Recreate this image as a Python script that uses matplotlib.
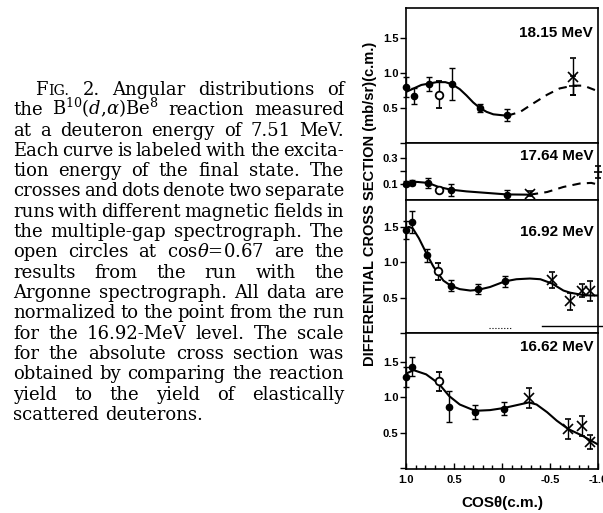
import matplotlib
matplotlib.use('Agg')
import matplotlib.pyplot as plt
from matplotlib.ticker import MultipleLocator

plt.rcParams['font.family'] = ['Liberation Sans', 'DejaVu Sans']
plt.rcParams['mathtext.fontset'] = 'dejavuserif'

# ---------------- data (cos theta c.m., cross section mb/sr) ----------------
# 18.15 MeV level
e1815_dot_cos = [1.0, 0.92, 0.76, 0.52, 0.23, -0.055]
e1815_dot_val = [0.80, 0.67, 0.85, 0.84, 0.50, 0.40]
e1815_dot_err = [0.14, 0.11, 0.10, 0.23, 0.06, 0.08]
e1815_open_cos = [0.66]
e1815_open_val = [0.69]
e1815_open_err = [0.19]
e1815_x_cos = [-0.74]
e1815_x_val = [0.95]
e1815_x_err = [0.27]
e1815_bar_cos = [-0.74]
e1815_bar_val = [0.82]
e1815_bar_err = [0.14]
e1815_curve_cos = [1.0, 0.92, 0.84, 0.76, 0.68, 0.59, 0.52, 0.44, 0.37, 0.30, 0.23, 0.16, 0.09, 0.02, -0.055]
e1815_curve_val = [0.73, 0.78, 0.83, 0.85, 0.87, 0.87, 0.84, 0.77, 0.68, 0.58, 0.50, 0.445, 0.41, 0.40, 0.39]
e1815_dash_cos = [-0.055, -0.19, -0.33, -0.47, -0.60, -0.74, -0.85, -1.0]
e1815_dash_val = [0.39, 0.445, 0.57, 0.69, 0.78, 0.82, 0.82, 0.74]

# 17.64 MeV level
e1764_dot_cos = [1.0, 0.94, 0.77, 0.535, -0.05]
e1764_dot_val = [0.10, 0.105, 0.105, 0.05, 0.006]
e1764_dot_err = [0.02, 0.02, 0.04, 0.05, 0.04]
e1764_open_cos = [0.66]
e1764_open_val = [0.046]
e1764_open_err = [0.02]
e1764_x_cos = [-0.29]
e1764_x_val = [0.02]
e1764_x_err = [0.02]
e1764_bar_cos = [-1.0]
e1764_bar_val = [0.19]
e1764_bar_err = [0.05]
e1764_curve_cos = [1.0, 0.89, 0.77, 0.66, 0.535, 0.37, 0.195, -0.05, -0.29]
e1764_curve_val = [0.10, 0.113, 0.105, 0.073, 0.052, 0.038, 0.028, 0.014, 0.012]
e1764_dash_cos = [-0.29, -0.47, -0.64, -0.81, -0.93, -1.0]
e1764_dash_val = [0.012, 0.033, 0.073, 0.10, 0.105, 0.092]

# 16.92 MeV level
e1692_dot_cos = [1.0, 0.934, 0.778, 0.535, 0.253, -0.03]
e1692_dot_val = [1.46, 1.57, 1.10, 0.67, 0.62, 0.73]
e1692_dot_err = [0.13, 0.15, 0.09, 0.08, 0.07, 0.08]
e1692_open_cos = [0.67]
e1692_open_val = [0.87]
e1692_open_err = [0.12]
e1692_x_cos = [-0.524, -0.71, -0.83, -0.92]
e1692_x_val = [0.75, 0.45, 0.60, 0.59]
e1692_x_err = [0.11, 0.12, 0.09, 0.14]
e1692_curve_cos = [1.0, 0.97, 0.93, 0.866, 0.778, 0.715, 0.67, 0.61, 0.535, 0.44, 0.33, 0.25, 0.125,
                   -0.03, -0.15, -0.29, -0.40, -0.52, -0.64, -0.71, -0.83, -0.92, -1.0]
e1692_curve_val = [1.48, 1.50, 1.48, 1.34, 1.10, 0.94, 0.85, 0.74, 0.67, 0.62, 0.60, 0.61, 0.65,
                   0.73, 0.76, 0.77, 0.76, 0.70, 0.60, 0.57, 0.54, 0.53, 0.53]

# 16.62 MeV level
e1662_dot_cos = [1.0, 0.94, 0.55, 0.28, -0.02]
e1662_dot_val = [1.29, 1.44, 0.87, 0.79, 0.84]
e1662_dot_err = [0.14, 0.14, 0.22, 0.10, 0.09]
e1662_open_cos = [0.66]
e1662_open_val = [1.23]
e1662_open_err = [0.14]
e1662_x_cos = [-0.28, -0.69, -0.83, -0.92]
e1662_x_val = [0.99, 0.55, 0.59, 0.37]
e1662_x_err = [0.14, 0.14, 0.14, 0.10]
e1662_curve_cos = [1.0, 0.92, 0.79, 0.66, 0.55, 0.44, 0.28, 0.125, -0.02, -0.15, -0.28, -0.36,
                   -0.47, -0.57, -0.69, -0.83, -0.92, -1.0]
e1662_curve_val = [1.34, 1.39, 1.33, 1.20, 1.02, 0.90, 0.81, 0.82, 0.85, 0.89, 0.93, 0.90,
                   0.79, 0.67, 0.55, 0.46, 0.39, 0.33]

level_labels = ['18.15 MeV', '17.64 MeV', '16.92 MeV', '16.62 MeV']
x_tick_vals = [1.0, 0.5, 0.0, -0.5, -1.0]
x_tick_text = ['1.0', '0.5', '0', '-0.5', '-1.0']

caption_lines = [
    "FIG. 2. Angular distributions of",
    r"the B$^{10}$($d$,$\alpha$)Be$^{8}$ reaction measured",
    "at a deuteron energy of 7.51 MeV.",
    "Each curve is labeled with the excita-",
    "tion energy of the final state. The",
    "crosses and dots denote two separate",
    "runs with different magnetic fields in",
    "the multiple-gap spectrograph. The",
    r"open circles at cos$\theta$=0.67 are the",
    "results from the run with the",
    "Argonne spectrograph. All data are",
    "normalized to the point from the run",
    "for the 16.92-MeV level. The scale",
    "for the absolute cross section was",
    "obtained by comparing the reaction",
    "yield to the yield of elastically",
    "scattered deuterons.",
]

W, H = 603, 513
fig = plt.figure(figsize=(W / 100, H / 100), dpi=100)
fig.patch.set_facecolor('white')

# panel edges in pixels (top, bottom)
panel_px = [(8, 143), (143, 200), (200, 333), (333, 469)]
ax_left, ax_right = 406, 598

panels = [
    dict(dots=(e1815_dot_cos, e1815_dot_val, e1815_dot_err),
         opens=(e1815_open_cos, e1815_open_val, e1815_open_err),
         xs=(e1815_x_cos, e1815_x_val, e1815_x_err),
         bars=(e1815_bar_cos, e1815_bar_val, e1815_bar_err),
         curve=(e1815_curve_cos, e1815_curve_val),
         dash=(e1815_dash_cos, e1815_dash_val),
         ylim=(0, 1.93), yticks=[0, 0.5, 1.0, 1.5], ylabels=['', '0.5', '1.0', '1.5'],
         label_y=0.815),
    dict(dots=(e1764_dot_cos, e1764_dot_val, e1764_dot_err),
         opens=(e1764_open_cos, e1764_open_val, e1764_open_err),
         xs=(e1764_x_cos, e1764_x_val, e1764_x_err),
         bars=(e1764_bar_cos, e1764_bar_val, e1764_bar_err),
         curve=(e1764_curve_cos, e1764_curve_val),
         dash=(e1764_dash_cos, e1764_dash_val),
         ylim=(-0.03, 0.42), yticks=[0.1, 0.2, 0.3], ylabels=['0.1', '', '0.3'],
         label_y=0.77),
    dict(dots=(e1692_dot_cos, e1692_dot_val, e1692_dot_err),
         opens=(e1692_open_cos, e1692_open_val, e1692_open_err),
         xs=(e1692_x_cos, e1692_x_val, e1692_x_err),
         bars=None,
         curve=(e1692_curve_cos, e1692_curve_val),
         dash=None,
         ylim=(0, 1.88), yticks=[0, 0.5, 1.0, 1.5], ylabels=['', '0.5', '1.0', '1.5'],
         label_y=0.76),
    dict(dots=(e1662_dot_cos, e1662_dot_val, e1662_dot_err),
         opens=(e1662_open_cos, e1662_open_val, e1662_open_err),
         xs=(e1662_x_cos, e1662_x_val, e1662_x_err),
         bars=None,
         curve=(e1662_curve_cos, e1662_curve_val),
         dash=None,
         ylim=(-0.02, 1.92), yticks=[0, 0.5, 1.0, 1.5], ylabels=['', '0.5', '1.0', '1.5'],
         label_y=0.895),
]


def unclip(cont):
    for a in [cont[0], *cont[1], *cont[2]]:
        if a is not None:
            a.set_clip_on(False)


axes = []
for i, (p, (top, bot)) in enumerate(zip(panels, panel_px)):
    ax = fig.add_axes([ax_left / W, 1 - bot / H, (ax_right - ax_left) / W, (bot - top) / H])
    axes.append(ax)
    ax.set_xlim(1.0, -1.0)
    ax.set_ylim(*p['ylim'])
    for sp in ax.spines.values():
        sp.set_linewidth(1.2)

    # curves drawn through the values
    cx, cy = p['curve']
    ax.plot(cx, cy, color='black', lw=1.5, solid_capstyle='round')
    if p['dash'] is not None:
        dx, dy = p['dash']
        ax.plot(dx, dy, color='black', lw=1.5, dashes=(4, 3), clip_on=False)

    eb = dict(ecolor='black', elinewidth=1.0, capsize=2.5, capthick=1.0)
    c, v, e = p['dots']
    unclip(ax.errorbar(c, v, yerr=e, fmt='o', ms=4.5, color='black', **eb))
    c, v, e = p['opens']
    unclip(ax.errorbar(c, v, yerr=e, fmt='o', ms=5.5, mfc='white', mec='black', mew=1.3, **eb))
    c, v, e = p['xs']
    unclip(ax.errorbar(c, v, yerr=e, fmt='x', ms=7, mew=1.2, color='black', **eb))
    if p['bars'] is not None:
        c, v, e = p['bars']
        unclip(ax.errorbar(c, v, yerr=e, fmt='_', ms=6, mew=1.2, color='black', **eb))

    ax.text(0.975, p['label_y'], level_labels[i], transform=ax.transAxes, ha='right',
            va='center', fontsize=11, fontweight='bold')

    ax.set_yticks(p['yticks'])
    ax.set_yticklabels(p['ylabels'], fontsize=8, fontweight='bold')
    ax.tick_params(axis='y', direction='out', length=4, width=1.0, pad=1.5, right=False)
    if i < 3:
        ax.tick_params(axis='x', bottom=False, labelbottom=False)

# bottom axis ticks
axb = axes[-1]
axb.set_xticks(x_tick_vals)
axb.set_xticklabels(x_tick_text, fontsize=8, fontweight='bold')
axb.xaxis.set_minor_locator(MultipleLocator(0.1))
axb.tick_params(axis='x', which='major', direction='in', length=4, width=1.0, pad=4)
axb.tick_params(axis='x', which='minor', direction='in', length=3, width=1.0)
axb.set_xlabel('COSθ(c.m.)', fontsize=11, fontweight='bold', labelpad=8)

# stray scan marks in the 16.92 panel
ax3 = axes[2]
ax3.plot([0.71, 1.03], [0.053, 0.053], transform=ax3.transAxes, color='black', lw=1.0, clip_on=False)
ax3.plot([0.43, 0.55], [0.04, 0.04], transform=ax3.transAxes, color='black', lw=0.8, ls=':', clip_on=False)

fig.text(370 / W, 1 - 204 / H, 'DIFFERENTIAL CROSS SECTION (mb/sr)(c.m.)', rotation=90,
         ha='center', va='center', fontsize=10.5, fontweight='bold')

# ---------------- justified caption on the left ----------------
renderer = fig.canvas.get_renderer()
cap_size = 13
cap_font = dict(family='DejaVu Serif', fontsize=cap_size, va='baseline', ha='left')
x_first, x_start, x_end = 35, 13, 344
base0, leading = 95, 20.3


def word_parts(word):
    # small caps for the figure tag
    if word == 'FIG.':
        return [('F', cap_size), ('IG.', cap_size * 0.78)]
    return [(word, cap_size)]


for li, line in enumerate(caption_lines):
    words = line.split(' ')
    measured = []
    for w in words:
        parts = []
        for txt, size in word_parts(w):
            t = fig.text(0, 0, txt, **{**cap_font, 'fontsize': size})
            parts.append((t, t.get_window_extent(renderer).width + (1 if len(word_parts(w)) > 1 else 0)))
        measured.append(parts)
    widths = [sum(pw for _, pw in parts) for parts in measured]
    x0 = x_first if li == 0 else x_start
    last = li == len(caption_lines) - 1
    if last or len(words) == 1:
        gap = renderer.points_to_pixels(cap_size) * 0.32
    else:
        gap = (x_end - x0 - sum(widths)) / (len(words) - 1)
    y = 1 - (base0 + li * leading) / H
    x = x0
    for parts, wd in zip(measured, widths):
        xx = x
        for t, pw in parts:
            t.set_position((xx / W, y))
            xx += pw
        x += wd + gap

fig.savefig('out.png', dpi=100, facecolor='white')
